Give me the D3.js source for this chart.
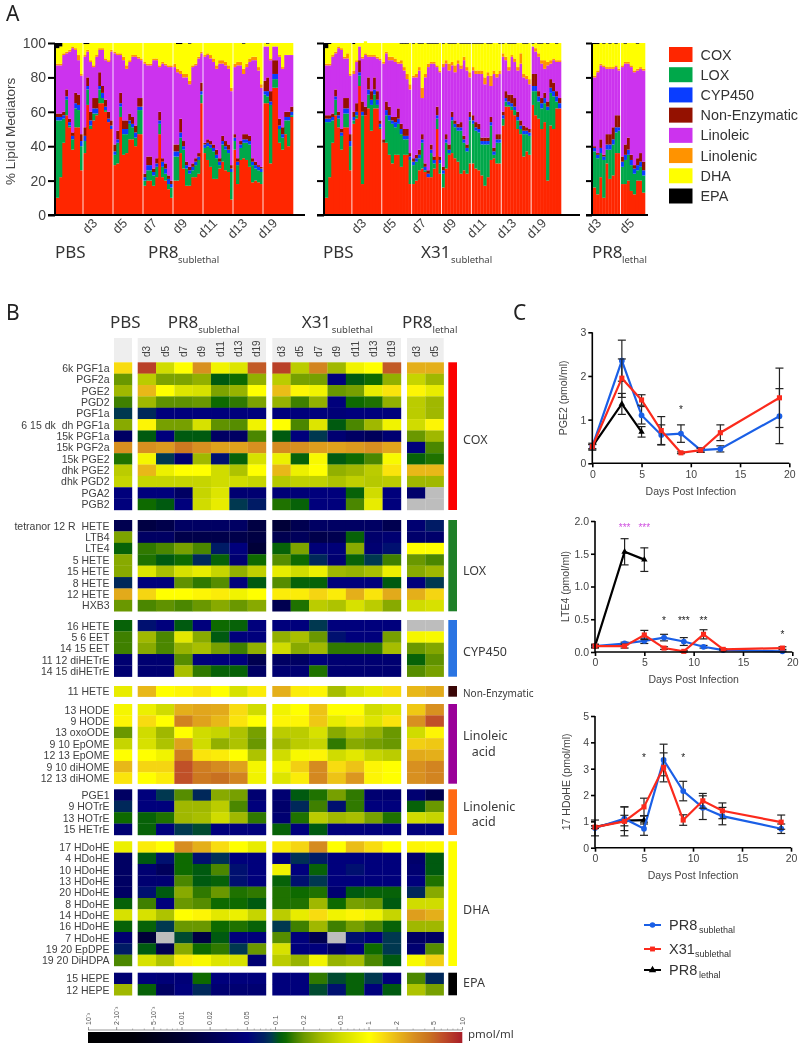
<!DOCTYPE html>
<html><head><meta charset="utf-8">
<script src="https://cdn.jsdelivr.net/npm/d3@7/dist/d3.min.js"></script>
<style>html,body{margin:0;padding:0;background:#fff}svg{display:block;filter:blur(.4px)}</style></head>
<body><svg id="c" width="800" height="1045"></svg>
<script>
// ---------- Panel A data (percent; per sample, grouped PBS,d3,d5,...)
const classNames=["COX","LOX","CYP450","Non-Enzymatic","Linoleic","Linolenic","DHA","EPA"];
const classColors=["#ff2600","#00a84a","#0a3dff","#941100","#cc33ee","#ff9300","#ffff00","#000000"];
const dayLabels=["d3","d5","d7","d9","d11","d13","d19"];
const lethalDays=["d3","d5"];
const groupSizes=[9,10,10,10,10,10,10,10];
const lethalSizes=[9,8];
// PR8 sublethal
const pr8Cox=[10,22,42,58,51,38,51,51,26, 36,64,50,55,58,65,65,60,54,50, 29,30,57,35,36,44,44,40,47,47, 17,20,20,17,22,47,22,20,15,10, 20,20,36,27,17,17,22,22,24,65, 36,32,28,21,21,27,31,26,25,9, 38,18,32,33,32,28,19,20,19,18, 65,65,30,74,74,42,38,47,40,57];
const pr8NeTop=[59,59,60,73,56,48,71,70,47, 51,80,60,68,68,83,75,67,60,55, 41,49,71,55,55,59,57,52,68,68, 24,34,34,27,33,60,33,30,23,20, 41,41,56,43,31,28,30,33,36,77, 42,44,43,41,38,33,46,43,41,29, 47,33,43,47,47,46,33,31,29,28, 78,80,72,90,90,56,51,60,60,63];
const pr8Ne=[2,2,2,4,2,2,6,6,4, 5,5,5,6,6,8,4,4,4,3, 4,5,6,5,5,4,4,4,5,5, 2,5,5,2,3,5,2,3,2,2, 4,4,8,3,2,2,2,2,2,5, 1,2,2,2,3,2,3,3,3,2, 2,2,2,3,3,3,2,2,1,1, 6,8,6,8,8,4,4,3,3,3];
const pr8Cyp=[2,2,2,2,2,2,3,3,3, 3,2,3,3,3,2,3,2,2,2, 2,2,2,3,3,2,2,3,2,2, 2,3,3,2,2,2,3,3,3,2, 3,3,3,2,2,2,2,2,2,2, 2,2,2,2,2,2,2,2,2,2, 2,2,2,2,2,2,2,2,2,2, 2,3,2,3,3,2,2,2,2,2];
const pr8LinTop=[87,87,93,94,95,97,96,90,81, 92,95,89,86,92,96,96,90,89,95, 94,93,93,90,85,89,92,92,91,90, 88,87,87,90,90,86,88,87,86,86, 86,83,82,80,80,76,86,87,91,94, 92,93,91,89,85,88,88,87,85,72, 86,87,87,82,86,89,90,90,84,74, 98,98,90,98,98,92,85,93,93,93];
const pr8Lnn=[1,1,1,1,1,1,1,3,1, 1,1,1,1,1,1,1,1,1,1, 1,1,1,2,2,1,1,1,1,1, 1,1,1,1,1,1,1,1,1,1, 2,2,2,2,2,2,1,1,1,1, 1,1,2,2,2,2,2,2,2,2, 2,2,2,3,2,2,2,2,2,2, 0,0,1,0,0,1,1,0,0,0];
const pr8Epa=[3,2,0,0,0,0,0,0,0, .6,.6,0,0,0,0,0,0,0,0, 0,0,0,0,0,0,0,0,0,0, 0,0,0,0,0,0,0,0,0,0, 0,.6,.6,0,0,.4,0,0,0,0, 0,0,0,0,0,0,0,0,0,0, 0,0,0,.4,0,0,0,0,0,0, 0,.4,0,0,0,0,0,0,0,0];
// X31 sublethal
const x31Cox=[10,22,42,58,51,38,51,51,26, 53,56,75,18,58,62,49,62,62,50, 42,42,35,30,35,35,28,35,35,18, 18,20,26,27,25,22,22,27,50,24, 16,27,35,36,33,31,24,26,24,30, 30,27,26,23,17,22,32,33,30,30, 52,63,63,61,58,50,47,34,37,35, 64,58,56,50,54,20,52,50,62,62];
const x31NeTop=[58,58,59,73,60,50,68,68,47, 60,65,90,66,62,80,72,80,72,55, 44,66,63,57,57,62,53,50,50,36, 33,35,38,47,30,26,41,34,63,34, 28,47,41,60,55,53,54,46,41,60, 58,54,53,45,45,45,57,39,47,47, 60,72,70,70,68,60,55,52,51,50, 82,82,72,68,71,66,79,77,72,68];
const x31Ne=[2,2,2,4,2,2,6,6,4, 3,5,7,6,5,7,5,7,5,2, 2,5,5,2,3,6,3,4,4,2, 2,2,3,3,2,2,3,2,5,2, 2,3,3,3,2,2,3,2,2,3, 3,3,3,2,2,2,3,2,3,3, 2,4,4,5,5,3,3,3,2,2, 7,7,3,3,3,3,5,5,3,3];
const x31Cyp=[2,2,2,2,2,2,3,3,3, 2,2,2,2,2,3,3,3,3,2, 2,3,3,2,3,3,3,2,2,2, 2,2,2,2,2,2,2,2,2,2, 2,2,2,2,2,2,2,2,2,2, 2,2,2,2,2,2,2,2,2,2, 2,2,2,2,2,2,2,2,2,2, 3,3,3,3,3,2,3,3,3,3];
const x31LinTop=[87,87,92,94,97,96,91,91,81, 82,89,98,91,92,92,92,92,91,90, 88,94,90,90,89,88,88,84,79,73, 80,80,84,68,80,86,88,88,86,83, 86,88,84,87,83,88,85,90,84,80, 84,82,82,82,76,81,75,82,80,82, 92,90,84,92,89,84,88,80,79,76, 98,95,92,88,85,87,88,90,89,89];
const x31Lnn=[1,1,1,1,1,1,1,3,1, 2,1,0,1,1,1,1,1,1,1, 1,1,2,2,2,1,2,2,3,3, 1,2,2,6,2,2,1,1,1,1, 2,2,4,2,4,2,2,2,2,3, 2,2,2,2,4,2,6,2,2,2, 2,2,2,1,2,2,6,2,2,3, 0,2,2,2,5,2,2,1,1,1];
const x31Epa=[3,.6,0,0,0,0,0,0,0, .6,0,0,0,0,0,0,0,0,0, 0,0,0,0,0,0,.4,.4,.4,0, .4,0,.4,.4,0,.4,.4,.4,.4,0, .4,0,.4,.4,.4,0,.4,.4,.4,.4, .4,.4,.4,.4,0,.4,.4,0,0,.4, .4,0,.4,.4,.4,0,0,.4,.4,0, .4,0,.4,.4,0,.4,0,0,.4,0];
// PR8 lethal
const letCox=[16,12,22,10,30,21,23,36,36, 18,18,20,14,12,20,20,13];
const letNeTop=[40,36,44,35,47,47,51,58,58, 34,41,45,35,29,33,36,31];
const letNe=[1,1,5,1,6,6,7,7,7, 3,6,7,3,2,4,5,5];
const letCyp=[2,2,3,2,3,3,3,3,2, 3,3,3,3,3,3,3,3];
const letLinTop=[80,83,87,86,85,85,85,86,84, 86,88,88,86,83,84,85,84];
const letLnn=[1,1,1,1,1,1,1,1,1, 1,1,1,1,1,1,1,1];
const letEpa=[.6,.6,0,.4,0,.4,0,.4,0, 0,.4,0,0,0,.4,0,0];

// ---------- Panel B data (pmol/ml): PBS | PR8 sub d3..d19 | X31 sub d3..d19 | PR8 lethal d3,d5
const coxNames=["6k PGF1a","PGF2a","PGE2","PGD2","PGF1a","6 15 dk  dh PGF1a","15k PGF1a","15k PGF2a","15k PGE2","dhk PGE2","dhk PGD2","PGA2","PGB2"];
const coxRows=[
[1.4,7,.5,1,3,.8,.6,5.5,7,.4,3.5,.3,.8,1,5.5,2.2,2.2],
[.2,.4,.23,.23,.27,.11,.13,.27,.4,.22,.22,.05,.11,.13,.27,.45,.3],
[.3,2,1,.6,.55,.23,.28,1,1.9,1.1,.8,.2,.22,.7,1.3,1.1,.7],
[.16,.3,.19,.19,.2,.13,.15,.23,.28,.16,.27,.05,.13,.14,.27,.4,.3],
[.09,.08,.05,.05,.05,.05,.05,.05,.05,.05,.05,.045,.05,.05,.05,.4,.3],
[.25,1.1,.22,.22,.55,.19,.18,.8,1,.17,.6,.11,.17,.3,.8,.5,1.1],
[.03,.11,.05,.11,.11,.03,.03,.17,.11,.05,.09,.04,.03,.025,.04,.2,.3],
[3,3,2.7,4,3,2.5,2.5,3,3.2,3,2.6,2.5,2.7,3,2.4,.05,.17],
[.14,.85,.09,.04,.3,.06,.12,.55,.75,.12,.9,.11,.13,.17,.9,.12,.14],
[.4,2,.75,1,1,.5,.35,1,2,.75,1,.27,.3,.4,1.3,2,2],
[.45,.45,.45,.45,.45,.5,.5,.45,.38,.42,.42,.35,.42,.38,.4,.3,.3],
[.05,.05,.05,.03,.45,.6,.04,.04,.045,.045,.05,.05,.12,.5,.05,.035,null],
[.05,.13,.11,.05,.5,.7,.09,.07,.14,.12,.05,.05,.17,.7,.05,null,null]];
const loxNames=["tetranor 12 R  HETE","LTB4","LTE4","5 HETE","15 HETE","8 HETE","12 HETE","HXB3"];
const loxRows=[
[.02,.015,.018,.03,.03,.03,.03,.015,.012,.02,.03,.03,.03,.03,.02,.04,.07],
[.23,.03,.03,.018,.018,.018,.018,.015,.02,.025,.018,.02,.12,.035,.04,.035,.035],
[.12,.15,.17,.22,.17,.07,.05,.012,.12,.23,.045,.045,.25,.04,.06,1,1],
[.25,.14,.11,.13,.08,.12,.04,.13,.18,.13,.08,.04,.12,.09,.16,.2,.17],
[.25,.6,.33,.55,.7,.45,.27,.42,.7,.5,.75,.3,.28,.33,.75,.25,.3],
[.08,.05,.05,.19,.15,.18,.05,.11,.18,.12,.12,.05,.05,.05,.11,.05,.09],
[2.3,1.5,1,1,1.1,1.2,.8,1,1.2,1.2,1.5,1.2,2.2,1.3,2.3,2.2,1.5],
[.2,.17,.19,.17,.2,.25,.2,.25,.02,.14,.4,.35,.55,.4,.25,.5,.55]];
const cypNames=["16 HETE","5 6 EET","14 15 EET","11 12 diHETrE","14 15 diHETrE"];
const cypRows=[
[.12,.06,.05,.11,.05,.13,.12,.05,.05,.05,.09,.05,.05,.05,.05,null,null],
[.16,.3,.17,.65,.25,.11,.05,.05,.27,.33,.2,.06,.05,.05,.22,.85,.9],
[.16,.25,.17,.28,.33,.22,.16,.27,.5,.25,.3,.15,.15,.15,.32,.2,.24],
[.04,.04,.04,.18,.05,.05,.05,.02,.03,.03,.05,.04,.04,.04,.04,.12,.19],
[.04,.04,.04,.33,.15,.12,.12,.03,.04,.04,.14,.04,.04,.04,.04,.18,.22]];
const neNames=["11 HETE"];
const neRows=[[.7,2,1,1.1,1.3,1,.55,1.2,2.2,1.2,1.1,.32,.55,.7,1.4,2,2.3]];
const linNames=["13 HODE","9 HODE","13 oxoODE","9 10 EpOME","12 13 EpOME","9 10 diHOME","12 13 diHOME"];
const linRows=[
[.85,.75,.5,2.2,2.4,2.3,1.4,.5,.8,1,1.8,1,1,.5,.6,1.7,3],
[1.1,1.4,1,3.6,2.5,2,1.3,1,1.1,1.1,1.7,.7,1.2,.6,1.3,3,6],
[.2,.5,.3,1,.5,.45,.35,.22,.4,.4,.55,.25,.35,.28,.2,.5,1.1],
[.45,.55,.35,2.5,.5,.27,.35,.2,.3,.4,.45,.15,.25,.22,.2,1.6,1.7],
[1,1,.8,3.8,1.3,1.2,1,.35,.5,.9,1.1,.5,.65,.45,.4,2.3,2.2],
[2,1.5,1.5,6,3.8,3.2,2.5,.85,.85,1.6,3.2,1.4,1.8,1.1,1,3,3.5],
[1.3,1,1.2,6,4,4.5,3.5,.8,.6,1.2,3.3,1.8,2.8,1.1,1,3,3.5]];
const lnnNames=["PGE1","9 HOTrE","13 HOTrE","15 HETrE"];
const lnnRows=[
[.03,.05,.09,.18,.08,.25,.22,.04,.04,.11,.14,.22,.15,.04,.04,.04,.02],
[.08,.05,.05,.3,.3,.4,.17,.05,.035,.08,.16,.06,.15,.05,.05,.12,.2],
[.13,.12,.14,.3,.33,.5,.3,.15,.04,.14,.4,.3,.33,.22,.14,.5,.45],
[.04,.12,.05,.09,.1,.05,.05,.05,.12,.05,.11,.05,.05,.05,.05,.05,.05]];
const dhaNames=["17 HDoHE","4 HDoHE","10 HDoHE","13 HDoHE","20 HDoHE","8 HDoHE","14 HDoHE","16 HDoHE","7 HDoHE","19 20 EpDPE","19 20 DiHDPA"];
const dhaRows=[
[.75,1.2,1,3.1,2.2,1.4,1,.7,1.2,1.5,3.2,1,1.9,1.4,1,1.1,1.05],
[.03,.11,.06,.13,.06,.085,.05,.05,.05,.085,.07,.05,.05,.05,.05,.035,.11],
[.03,.04,.025,.13,.11,.17,.06,.05,.8,.05,.12,.05,.06,.05,.05,.04,.11],
[.03,.04,.04,.17,.11,.12,.06,.05,.12,.06,.09,.05,.05,.05,.05,.05,.14],
[.03,.06,.11,.25,.15,.2,.14,.15,.14,.13,.14,.04,.11,.12,.12,.08,.25],
[.12,.16,.05,.2,.18,.13,.13,.11,.14,.14,.3,.13,.22,.2,.11,.5,.5],
[.55,.55,.35,1,1.1,.65,.75,.45,.4,.7,1.4,.8,1.1,.8,.45,2.6,2.2],
[.12,.12,.09,.2,.2,.13,.14,.12,.09,.16,.3,.16,.22,.17,.12,.3,.3],
[.04,.012,null,.1,.015,.11,.05,.05,.18,.05,.02,null,.06,.05,.09,.03,.03],
[.07,.11,.02,.25,.13,.15,.09,.2,.55,.05,.05,.03,.05,.13,.09,.04,.18],
[.17,.55,.35,1.2,.9,.6,.55,.04,.4,.28,.8,.28,.32,.17,.11,.9,1.6]];
const epaNames=["15 HEPE","12 HEPE"];
const epaRows=[
[.04,.05,.045,.045,.13,.05,.05,.05,.05,.05,.15,.1,.12,.09,.05,.17,.08],
[.3,.12,.03,.05,.08,.04,.04,.04,.05,.05,.1,.06,.12,.05,.11,.35,.22]];
const heatStops=[.001,.003,.01,.02,.05,.06,.075,.09,.1,.11,.13,.16,.2,.3,.5,.7,1,1.4,2,3,4.5,6,10];
const heatColors=["#000000","#000008","#000030","#000050","#00007c","#001070","#002060","#003850","#004a30","#005a10","#0e6a00","#3f8000","#6a9800","#a0b800","#d0dc00","#e8ec00","#ffff00","#f8dc10","#e8b818","#d89020","#c87020","#c05028","#a81c28"];
const scaleTicks=[.001,.002,.005,.01,.02,.05,.1,.2,.5,1,2,5,10];
const scaleTickLabels=["10⁻³","2·10⁻³","5·10⁻³","0.01","0.02","0.05","0.1","0.2","0.5","1","2","5","10"];
const scaleMinor=[.003,.004,.006,.007,.008,.009,.03,.04,.06,.07,.08,.09,.3,.4,.6,.7,.8,.9,3,4,6,7,8,9];

// ---------- Panel C data
const days=[0,3,5,7,9,11,13,19];
const lethalDaysNum=[0,3,5];
const pge2Blue=[.38,2.35,1.1,.65,.68,.3,.33,1.08], pge2BlueErr=[.05,.47,.2,.23,.2,.04,.07,.63];
const pge2Red=[.38,1.95,1.45,.75,.24,.3,.7,1.5], pge2RedErr=[.05,.44,.12,.32,.02,.05,.18,.68];
const pge2Black=[.38,1.36,.72], pge2BlackErr=[.08,.24,.12];
const lte4Blue=[.09,.13,.17,.22,.16,.08,.03,.01], lte4BlueErr=[.01,.02,.04,.05,.06,.02,.01,.005];
const lte4Red=[.09,.09,.26,.06,.01,.27,.04,.06], lte4RedErr=[.03,.03,.07,.02,.01,.07,.01,.02];
const lte4Black=[.09,1.53,1.41], lte4BlackErr=[.02,.2,.18];
const hdoheBlue=[.75,1.1,.72,3.33,2.15,1.52,1.2,.72], hdoheBlueErr=[.3,.45,.25,.6,.37,.45,.33,.18];
const hdoheRed=[.78,1,1.55,3.05,1.05,1.78,1.4,.97], hdoheRedErr=[.05,.55,.33,.55,.2,.28,.3,.27];
const hdoheBlack=[.78,1.03,1.05], hdoheBlackErr=[.05,.2,.15];

// ---------- drawing
const svg=d3.select("#c");
const SANS="'Liberation Sans',Arial,sans-serif", NOTO="'Noto Sans',sans-serif";
const INK="#3c3c3c";
function txt(x,y,s,size,font,opts={}){
  const t=svg.append("text").attr("x",x).attr("y",y).attr("font-size",size).attr("font-family",font||SANS)
    .attr("fill",opts.fill||INK).attr("text-anchor",opts.anchor||"start").text(s);
  if(opts.rotate!==undefined)t.attr("transform",`rotate(${opts.rotate} ${x} ${y})`);
  return t;
}
function subLabel(x,y,main,sub,size,subSize,font,subDx){
  txt(x,y,main,size,font,{fill:"#333"});
  txt(x+subDx,y+size*0.27,sub,subSize,font,{fill:"#444"});
}
txt(6,21,"A",21,NOTO,{fill:"#222"});
txt(6,320,"B",21,NOTO,{fill:"#222"});
txt(513,320,"C",21,NOTO,{fill:"#222"});

// Panel A
const yA=d3.scaleLinear().domain([0,100]).range([215,43]);
function stackPanel(x0,x1,axisL,axisR,axisX,cox,neTop,ne,cyp,linTop,lnn,epa,sizes,showLabels){
  const x=d3.scaleBand().domain(d3.range(cox.length)).range([x0,x1]);
  const table=cox.map((c,i)=>{
    const lox=Math.max(0,neTop[i]-ne[i]-cyp[i]-c);
    const li=linTop[i]-neTop[i], dha=Math.max(0,100-linTop[i]-lnn[i]-epa[i]);
    return {COX:c,LOX:lox,CYP450:Math.max(0,neTop[i]-c-lox-ne[i]),"Non-Enzymatic":ne[i],Linoleic:li,Linolenic:lnn[i],DHA:dha,EPA:epa[i],i};
  });
  const series=d3.stack().keys(classNames)(table);
  const g=svg.append("g");
  g.selectAll("g").data(series).join("g").attr("fill",(d,i)=>classColors[i])
    .selectAll("rect").data(d=>d).join("rect")
    .attr("x",d=>x(d.data.i)).attr("width",x.bandwidth()+.3)
    .attr("y",d=>yA(d[1])).attr("height",d=>Math.max(0,yA(d[0])-yA(d[1])));
  let c=0; sizes.slice(0,-1).forEach(s=>{c+=s;
    g.append("line").attr("x1",x(c)).attr("x2",x(c)).attr("y1",43).attr("y2",215).attr("stroke","#fff").attr("stroke-opacity",.85).attr("stroke-width",1);});
  const ya=svg.append("g").attr("transform",`translate(${axisX},0)`)
    .call(d3.axisLeft(yA).tickValues(d3.range(0,101,20)).tickSize(axisX-axisL).tickFormat(showLabels?d3.format("d"):""));
  ya.selectAll("path,line").attr("stroke","#000").attr("stroke-width",2);
  ya.select("path").attr("d",`M0,43V215`);
  ya.selectAll("text").attr("font-size",14).attr("font-family",SANS).attr("fill","#444").attr("dx",1);
  svg.append("line").attr("x1",axisL).attr("x2",axisR).attr("y1",215).attr("y2",215).attr("stroke","#000").attr("stroke-width",2);
}
stackPanel(56,293,48,305,55,pr8Cox,pr8NeTop,pr8Ne,pr8Cyp,pr8LinTop,pr8Lnn,pr8Epa,groupSizes,true);
stackPanel(325,561,317,580,324,x31Cox,x31NeTop,x31Ne,x31Cyp,x31LinTop,x31Lnn,x31Epa,groupSizes,false);
stackPanel(593,645,586,648,592,letCox,letNeTop,letNe,letCyp,letLinTop,letLnn,letEpa,lethalSizes,false);
txt(15,185,"% Lipid Mediators",13.5,SANS,{rotate:-90,fill:"#444"});

dayLabels.forEach((d,i)=>{
  [98,367].forEach(x0=>txt(x0+30*i,224,d,13,SANS,{anchor:"end",rotate:-45,fill:"#444"}));
});
lethalDays.forEach((d,i)=>txt(602+33*i,224,d,13,SANS,{anchor:"end",rotate:-45,fill:"#444"}));
txt(55,258,"PBS",17,NOTO,{fill:"#333"});
txt(323,258,"PBS",17,NOTO,{fill:"#333"});
subLabel(148,258,"PR8","sublethal",17,9.5,NOTO,30);
subLabel(421,258,"X31","sublethal",17,9.5,NOTO,30);
subLabel(592,258,"PR8","lethal",17,9.5,NOTO,30);

// legend A
const legY=d3.scalePoint().domain(classNames).range([54.5,196]);
classNames.forEach((n,i)=>{
  svg.append("rect").attr("x",669).attr("y",legY(n)-7.5).attr("width",23.5).attr("height",15).attr("fill",classColors[i]);
  txt(700.5,legY(n)+5,n,14.4,SANS,{fill:"#333"});
});

// Panel B
const heat=d3.scaleLog().domain(heatStops).range(heatColors).clamp(true);
const sections=[
 {cols:["PBS"],range:[114,132],offset:0},
 {cols:dayLabels,range:[137.7,266],offset:1},
 {cols:dayLabels,range:[272.3,401],offset:8},
 {cols:lethalDays,range:[407,443.7],offset:15}];
sections.forEach(s=>{
  s.x=d3.scaleBand().domain(s.cols).range(s.range);
  svg.append("rect").attr("x",s.range[0]).attr("y",338).attr("width",s.range[1]-s.range[0]).attr("height",24).attr("fill","#eeeeee");
  if(s.cols.length>1) s.cols.forEach(c=>{
    txt(s.x(c)+s.x.bandwidth()/2+3.5,357,c,10,SANS,{rotate:-90,fill:"#444"});
  });
});
const blocks=[
 {names:coxNames,rows:coxRows,top:362.3,bottom:510,color:"#fb0000"},
 {names:loxNames,rows:loxRows,top:520,bottom:611.3,color:"#1f8028"},
 {names:cypNames,rows:cypRows,top:620,bottom:676.7,color:"#2a74e2"},
 {names:neNames,rows:neRows,top:686,bottom:696.7,color:"#3a0606"},
 {names:linNames,rows:linRows,top:704,bottom:783.7,color:"#9a0098"},
 {names:lnnNames,rows:lnnRows,top:789.3,bottom:835,color:"#ff6a14"},
 {names:dhaNames,rows:dhaRows,top:841.3,bottom:966,color:"#ffff00"},
 {names:epaNames,rows:epaRows,top:972.7,bottom:995.3,color:"#000000"}];
blocks.forEach(b=>{
  const y=d3.scaleBand().domain(b.names.map((n,i)=>i)).range([b.top,b.bottom]);
  b.names.forEach((n,i)=>{
    txt(109.5,y(i)+y.bandwidth()/2+3.9,n,10.5,SANS,{anchor:"end",fill:"#404040"}).style("white-space","pre");
    sections.forEach(s=>{
      s.cols.forEach((c,j)=>{
        const v=b.rows[i][s.offset+j];
        svg.append("rect").attr("x",s.x(c)).attr("y",y(i)).attr("width",s.x.bandwidth()+.2).attr("height",y.bandwidth()+.2)
          .attr("fill",v===null?"#bdbdbd":heat(v));
      });
    });
  });
  svg.append("rect").attr("x",448.3).attr("y",b.top).attr("width",8.7).attr("height",b.bottom-b.top).attr("fill",b.color);
});
txt(110,328,"PBS",17,NOTO,{fill:"#333"});
subLabel(167.7,328,"PR8","sublethal",17,9.5,NOTO,30.5);
subLabel(301.7,328,"X31","sublethal",17,9.5,NOTO,30);
subLabel(402,328,"PR8","lethal",17,9.5,NOTO,30.5);
[["COX",463,443.5,12.5],["LOX",463,575,12.5],["CYP450",463,656,12.5],["Non-Enzymatic",463,697,10],
 ["Linoleic",463,740,12.5],["acid",471.7,755.5,12.5],["Linolenic",463,810.5,12.5],["acid",471.7,826,12.5],["DHA",463,913.5,12.5],["EPA",463,987,12.5]]
 .forEach(r=>txt(r[1],r[2],r[0],r[3],NOTO,{fill:"#3a3a3a"}));

// colour key
const keyX=d3.scaleLog().domain([.001,10]).range([88,462]);
const keySamples=d3.range(88,462,1).map(px=>keyX.invert(px));
svg.append("g").selectAll("rect").data(keySamples).join("rect")
  .attr("x",d=>keyX(d)).attr("y",1032).attr("width",1.3).attr("height",11).attr("fill",d=>heat(d));
const keyAxis=svg.append("g").attr("transform","translate(0,1030)")
  .call(d3.axisTop(keyX).tickValues(scaleTicks).tickSize(3).tickFormat(""));
keyAxis.selectAll("path,line").attr("stroke","#555").attr("stroke-width",.6);
keyAxis.select("path").attr("d","M88,0H462");
svg.append("g").attr("transform","translate(0,1030)").selectAll("line").data(scaleMinor).join("line")
  .attr("x1",d=>keyX(d)).attr("x2",d=>keyX(d)).attr("y1",0).attr("y2",-1.5).attr("stroke","#777").attr("stroke-width",.5);
scaleTicks.forEach((t,i)=>txt(keyX(t)+2.5,1025,scaleTickLabels[i],7,SANS,{rotate:-90,fill:"#555"}));
txt(468,1038,"pmol/ml",11.5,NOTO,{fill:"#3a3a3a"});

// Panel C
const BLUE="#1a5fe6", RED="#fb2a1c";
function linePanel(cfg){
  const x=d3.scaleLinear().domain([0,20]).range([cfg.x0,cfg.x1]);
  const y=d3.scaleLinear().domain([0,cfg.max]).range([cfg.y0,cfg.y1]);
  const line=d3.line();
  const g=svg.append("g");
  function ser(xs,ys,es,col,shape){
    const pts=xs.map((d,i)=>[x(d),y(ys[i])]);
    xs.forEach((d,i)=>{
      const a=y(ys[i]-es[i]),b=y(ys[i]+es[i]),px=x(d);
      g.append("line").attr("x1",px).attr("x2",px).attr("y1",a).attr("y2",b).attr("stroke","#222").attr("stroke-width",1.2);
      [a,b].forEach(q=>g.append("line").attr("x1",px-4).attr("x2",px+4).attr("y1",q).attr("y2",q).attr("stroke","#222").attr("stroke-width",1.2));
    });
    g.append("path").attr("d",line(pts)).attr("fill","none").attr("stroke",col).attr("stroke-width",2.2);
    g.selectAll(null).data(pts).join("path").attr("transform",d=>`translate(${d[0]},${d[1]})`)
      .attr("d",d3.symbol().type(shape).size(shape===d3.symbolTriangle?18:26)).attr("fill",col);
  }
  ser(lethalDaysNum,cfg.black,cfg.blackErr,"#000",d3.symbolTriangle);
  ser(days,cfg.blue,cfg.blueErr,BLUE,d3.symbolCircle);
  ser(days,cfg.red,cfg.redErr,RED,d3.symbolSquare);
  const ax=svg.append("g").attr("transform",`translate(0,${cfg.y0})`).call(d3.axisBottom(x).tickValues([0,5,10,15,20]).tickSize(4).tickPadding(3).tickFormat(d3.format("d")));
  const ay=svg.append("g").attr("transform",`translate(${cfg.x0},0)`).call(d3.axisLeft(y).tickValues(cfg.ticks).tickSize(4).tickPadding(2).tickFormat(cfg.fmt));
  [ax,ay].forEach(a=>{
    a.selectAll("path,line").attr("stroke","#000").attr("stroke-width",1.6);
    a.selectAll("text").attr("font-size",10.5).attr("font-family",SANS).attr("fill","#444");
  });
  ax.select("path").attr("d",`M${cfg.x0},0H${cfg.x1}`);
  ay.select("path").attr("d",`M0,${cfg.y0}V${cfg.y1}`);
  txt((cfg.x0+cfg.x1)/2,cfg.titleY,"Days Post Infection",10.5,SANS,{anchor:"middle",fill:"#444"});
  txt(cfg.yTitleX,(cfg.y0+cfg.y1)/2+(cfg.yTitleDy||0),cfg.yTitle,10.5,SANS,{anchor:"middle",rotate:-90,fill:"#444"});
  cfg.stars.forEach(s=>txt(x(s[0]),s[2],s[1],10,SANS,{anchor:"middle",fill:s[3]||"#222"}));
}
linePanel({x0:592.3,x1:789.3,y0:463.3,y1:332.3,max:3,ticks:[0,1,2,3],fmt:d3.format("d"),
 blue:pge2Blue,blueErr:pge2BlueErr,red:pge2Red,redErr:pge2RedErr,black:pge2Black,blackErr:pge2BlackErr,
 titleY:494.5,yTitle:"PGE2 (pmol/ml)",yTitleX:567,stars:[[9,"*",413]]});
linePanel({x0:595,x1:792.3,y0:652,y1:521,max:2,ticks:[0,.5,1,1.5,2],fmt:d3.format(".1f"),
 blue:lte4Blue,blueErr:lte4BlueErr,red:lte4Red,redErr:lte4RedErr,black:lte4Black,blackErr:lte4BlackErr,
 titleY:683,yTitle:"LTE4 (pmol/ml)",yTitleX:569,
 stars:[[3,"***",531,"#d050e0"],[5,"***",531,"#d050e0"],[7,"*",624],[9,"***",624],[11,"**",624],[19,"*",637.5]]});
linePanel({x0:595,x1:791,y0:847.7,y1:716,max:5,ticks:[0,1,2,3,4,5],fmt:d3.format("d"),
 blue:hdoheBlue,blueErr:hdoheBlueErr,red:hdoheRed,redErr:hdoheRedErr,black:hdoheBlack,blackErr:hdoheBlackErr,
 titleY:879,yTitle:"17 HDoHE (pmol/ml)",yTitleX:570,stars:[[5,"*",761],[9,"*",761]]});

// legend C
[["PR8","sublethal",BLUE,925,d3.symbolCircle,30],["X31","sublethal",RED,949,d3.symbolSquare,26],["PR8","lethal","#000",970,d3.symbolTriangle,30]].forEach(r=>{
  svg.append("line").attr("x1",644).attr("x2",661).attr("y1",r[3]).attr("y2",r[3]).attr("stroke",r[2]).attr("stroke-width",2);
  svg.append("path").attr("transform",`translate(652.5,${r[3]})`).attr("d",d3.symbol().type(r[4]).size(24)).attr("fill",r[2]);
  txt(669,r[3]+5,r[0],14.5,SANS,{fill:"#333"});
  txt(669+r[5],r[3]+8,r[1],9,SANS,{fill:"#333"});
});
</script></body></html>
